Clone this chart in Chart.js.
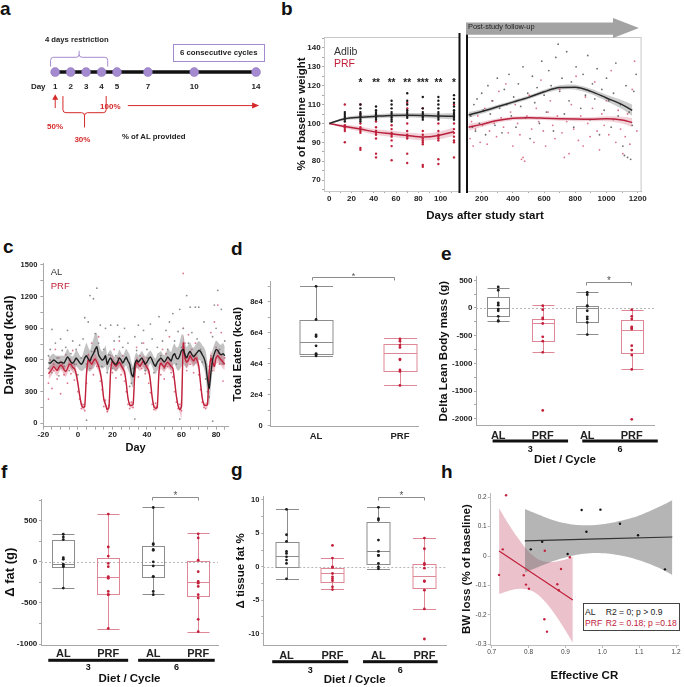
<!DOCTYPE html>
<html><head><meta charset="utf-8">
<script src="https://cdn.jsdelivr.net/npm/chart.js"></script>
<style>
html,body{margin:0;padding:0;background:#fff;}
body{width:685px;height:687px;position:relative;overflow:hidden;font-family:'Liberation Sans',Arial,Helvetica,sans-serif;color:#111;}
canvas{position:absolute;}
.t{position:absolute;white-space:nowrap;line-height:1;}
.c{transform:translate(-50%,-50%);}
.v{transform:translate(0,-50%);}
.P{font-weight:bold;font-size:19px;}
</style></head><body>
<script>
// ================= DATA =================
// panel a : schedule
const aDays = [1, 2, 3, 4, 5, 7, 10, 14];

// panel b : % of baseline weight
const bLDays = [0, 14, 28, 42, 56, 70, 84, 98, 112];
const bLALmean = [100, 102.5, 103.3, 103.8, 104.2, 104.3, 104.2, 103.9, 103.8];
const bLALhw = [0.2, 0.8, 1.0, 1.1, 1.2, 1.2, 1.3, 1.4, 1.6];
const bLPRFmean = [100, 98.4, 97.0, 95.4, 94.5, 93.6, 92.8, 93.6, 95.6];
const bLPRFhw = [0.2, 1.0, 1.3, 1.5, 1.6, 1.7, 1.8, 2.0, 2.2];
const bColDays = [14, 28, 42, 56, 70, 84, 98, 112];
const bColAL = [
  [106, 105, 104, 103, 102, 101],
  [110, 108, 106, 105, 104, 103.5, 103, 102, 101],
  [109, 107, 106, 105, 104.5, 104, 103, 102],
  [112, 110, 108, 106, 105, 104, 103, 102, 101],
  [116, 112, 110, 107, 106, 105, 104, 103],
  [114, 108, 106, 105, 104, 103, 102],
  [114, 112, 110, 108, 106, 105, 104, 103, 102],
  [115, 113, 111, 109, 107, 106, 105, 104, 103, 102]
];
const bColPRF = [
  [110, 99, 98, 97, 96, 90],
  [110, 105, 100, 98, 97, 96, 95, 87, 86],
  [101, 98, 96, 95, 94, 92, 84, 82],
  [99, 97, 95, 94, 93, 91, 88, 80.5],
  [111, 108, 100, 96, 94, 93, 92, 84, 79],
  [108, 104, 96, 94, 92, 91, 90, 89, 78, 77],
  [100, 96, 94, 93, 92, 91, 81, 78.5],
  [110, 104, 100, 97, 95, 93, 91, 90, 82]
];
const bStarDays = [28, 42, 56, 70, 84, 98, 112];
const bStars = ['*', '**', '**', '**', '***', '**', '*'];
const bStarLevel = 122.7;
const bRDays = [116, 200, 300, 400, 500, 600, 700, 800, 900, 1000, 1100, 1165];
const bRALmean = [104.5, 106.3, 108.8, 111.3, 113.8, 116.8, 119.0, 119.2, 117.0, 113.5, 110.0, 107.0];
const bRALhw = [1.5, 1.2, 1.0, 1.0, 1.0, 1.1, 1.2, 1.3, 1.4, 1.7, 2.3, 3.0];
const bRPRFmean = [98.0, 99.5, 101.5, 102.7, 103.0, 102.8, 102.5, 102.3, 102.2, 102.5, 101.8, 100.5];
const bRPRFhw = [1.8, 1.4, 1.1, 1.0, 1.0, 1.0, 1.1, 1.1, 1.1, 1.3, 1.8, 2.4];
const bRALpts = [[130,104],[140,98],[150,110],[160,96],[170,113],[185,100],[200,116],[210,107],[225,94],[240,120],[255,105],[270,112],[285,99],[300,124],[315,108],[330,95],[345,118],[360,110],[375,126],[390,104],[405,114],[420,98],[435,121],[450,109],[465,130],[480,103],[495,116],[510,92],[525,125],[540,111],[555,119],[570,100],[585,133],[600,115],[615,106],[630,128],[645,120],[660,96],[675,135],[690,142],[700,117],[715,124],[730,105],[745,138],[760,112],[775,122],[790,98],[805,130],[820,119],[835,108],[850,126],[865,115],[880,136],[895,102],[910,121],[925,113],[940,129],[955,94],[970,118],[985,107],[1000,124],[1015,112],[1030,98],[1045,116],[1060,132],[1075,104],[1090,110],[1105,88],[1115,83],[1125,120],[1135,82],[1145,106],[1155,81],[1165,99],[1175,117],[1190,126]];
const bRPRFpts = [[125,92],[135,101],[145,88],[160,97],[175,104],[190,90],[205,99],[220,108],[235,89],[250,96],[265,112],[280,100],[295,93],[310,117],[325,103],[340,98],[355,121],[370,95],[385,106],[400,88],[415,110],[430,100],[445,94],[455,81],[465,82],[475,80],[490,104],[505,115],[520,97],[535,90],[550,108],[565,101],[580,123],[595,96],[610,88],[625,106],[640,112],[655,99],[670,92],[685,104],[700,118],[715,95],[730,82],[745,101],[760,84],[775,110],[790,97],[805,125],[820,91],[835,104],[850,88],[865,114],[880,100],[895,93],[910,108],[925,122],[940,96],[955,86],[970,105],[985,99],[1000,112],[1015,94],[1030,128],[1045,102],[1060,90],[1075,107],[1090,97],[1105,84],[1120,93],[1135,105],[1150,89],[1165,118],[1180,133],[1195,96]];

// panel c : daily feed (days -17 .. 85)
const cFirstDay = -17;
const cALmean = [575,570,585,600,590,575,570,580,575,570, 600,630,610,580,570,590,620,600,575,560, 580,620,640,610,590,630,660,700,725,650, 620,600,610,640,560,600,620,590,570,560, 580,620,600,570,600,630,590,560,470,440, 560,600,580,600,620,590,560,580,610,630, 600,560,540,580,600,620,600,580,600,630, 610,590,640,660,620,610,640,690,700,650, 620,660,680,650,630,650,670,690,680,650, 620,560,420,330,480,600,660,700,690,660, 650,660,640];
const cALhw = [60,65,70,60,55,65,70,60,65,70, 75,80,70,60,65,70,80,75,70,65, 80,100,120,110,100,120,140,150,130,110, 90,80,85,100,90,80,75,70,65,70, 75,80,70,65,70,80,85,90,110,100, 80,70,65,60,65,70,75,70,65,60, 65,70,75,80,70,65,60,65,70,75, 80,85,90,95,100,110,130,150,140,110, 100,90,85,80,85,90,95,90,85,90, 100,120,150,160,130,100,90,85,80,90, 95,100,90];
const cPRFmean = [470,490,510,540,520,500,530,550,540,510, 490,520,560,560,530,520,470,380,270,180, 150,160,470,600,580,560,590,610,580,540, 480,380,230,180,130,150,500,590,560,540, 560,580,550,520,490,380,240,175,170,180, 480,580,560,540,570,590,560,530,500,400, 250,160,140,160,500,570,550,530,560,580, 560,540,520,400,260,170,130,160,760,620, 580,600,640,610,590,620,600,540,380,240, 175,170,175,480,620,580,540,620,640,620, 600,580,560];
const cPRFhw = [50,55,50,45,50,55,50,45,50,55, 50,45,50,55,50,45,50,40,35,30, 25,30,60,70,55,50,45,50,55,50, 45,40,35,30,25,30,60,55,50,45, 50,55,50,45,40,35,30,25,25,30, 60,55,50,45,50,55,50,45,40,35, 30,25,25,30,60,55,50,45,50,55, 50,45,40,35,30,25,30,120,80,60, 55,60,65,60,55,50,55,50,40,30, 25,25,30,60,70,60,55,60,65,60, 55,60,55];
const cALpts = [[-17,640],[-17,520],[-16,700],[-15,480],[-15,890],[-14,560],[-13,760],[-12,620],[-11,450],[-10,800],[-9,690],[-8,540],[-7,720],[-6,880],[-5,500],[-4,660],[-3,780],[-2,560],[-1,700],[0,460],[1,740],[2,620],[3,800],[4,1000],[5,560],[6,960],[7,1210],[8,680],[9,1180],[10,850],[11,1280],[12,760],[13,930],[14,540],[15,700],[16,900],[17,480],[18,650],[19,930],[20,520],[21,780],[22,640],[23,930],[24,820],[25,560],[26,720],[27,900],[28,610],[29,760],[30,350],[31,380],[32,520],[33,820],[34,690],[35,930],[36,540],[37,760],[38,880],[39,500],[40,700],[41,620],[42,940],[43,800],[44,480],[45,560],[46,720],[47,1010],[48,640],[49,780],[50,520],[51,880],[52,700],[53,960],[54,600],[55,1040],[56,780],[57,560],[58,870],[59,1080],[60,720],[61,900],[62,620],[63,1210],[64,760],[65,1100],[66,860],[67,640],[68,1100],[69,800],[70,1100],[71,700],[72,580],[73,960],[74,420],[75,300],[76,250],[77,640],[78,820],[79,1120],[80,900],[81,1260],[82,700],[83,1080],[84,560],[85,780],[5,30],[33,40],[59,40],[78,20]];
const cPRFpts = [[-17,380],[-17,230],[-16,600],[-15,330],[-14,500],[-13,700],[-12,420],[-11,620],[-10,280],[-9,560],[-8,460],[-7,650],[-6,380],[-5,600],[-4,470],[-3,690],[-2,410],[-1,560],[0,300],[1,230],[2,140],[3,180],[4,120],[5,380],[6,650],[7,520],[8,760],[9,460],[10,680],[11,540],[12,820],[13,400],[14,320],[15,160],[16,220],[17,110],[18,170],[19,640],[20,480],[21,700],[22,430],[23,620],[24,780],[25,460],[26,640],[27,400],[28,300],[29,180],[30,140],[31,200],[32,150],[33,560],[34,720],[35,440],[36,640],[37,520],[38,760],[39,470],[40,620],[41,380],[42,290],[43,180],[44,130],[45,190],[46,150],[47,600],[48,460],[49,700],[50,420],[51,660],[52,540],[53,820],[54,480],[55,440],[56,300],[57,200],[58,140],[59,180],[60,120],[61,1420],[61,900],[62,760],[63,500],[64,840],[65,560],[66,700],[67,480],[68,760],[69,620],[70,460],[71,320],[72,200],[73,150],[74,140],[75,190],[76,540],[77,860],[78,500],[79,960],[80,720],[81,1120],[82,560],[83,860],[84,400],[85,620]];

// panel d : total eaten
const dGroups = ['AL', 'PRF'];
const dLow = [44800, 26000];
const dQ1 = [46000, 35500];
const dMed = [54200, 46700];
const dQ3 = [68200, 52900];
const dHigh = [89900, 56400];
const dPts = [[89900, 68500, 58500, 57500, 51500, 46500, 46000, 45000], [56000, 54500, 52000, 50500, 43000, 42500, 36000, 35000, 26000]];
const dYTicks = [0, 10000, 20000, 30000, 40000, 50000, 60000, 70000, 80000, 90000];

// panels e, f, g : diet x cycle
const diets = ['AL', 'PRF', 'AL', 'PRF'];
const cycles = ['3', '6'];
const eLow = [-235, -795, -475, -1108];
const eQ1 = [-150, -602, -253, -819];
const eMed = [5, -265, 5, -391];
const eQ3 = [204, -193, 42, -223];
const eHigh = [356, 49, 283, -36];
const ePts = [[380, 320, 90, 50, -20, -50, -150, -230, -240], [40, -30, -180, -200, -280, -520, -600, -800, -1850], [280, 240, 40, 30, -50, -160, -200, -260, -480], [-30, -150, -200, -340, -360, -380, -680, -760, -850, -1110, -2010]];
const eYTicks = [-2000, -1750, -1500, -1250, -1000, -750, -500, -250, 0, 250, 500];
const fLow = [-320, -814, -393, -855];
const fQ1 = [-58, -393, -180, -422];
const fMed = [-29, -187, -41, -248];
const fQ3 = [262, 44, 193, 11];
const fHigh = [339, 581, 662, 347];
const fPts = [[335, 300, 270, 50, 30, -30, -50, -60, -320], [580, 180, 70, -20, -60, -180, -200, -360, -400, -400, -810], [660, 220, 210, 150, 140, 0, -50, -180, -180, -360, -400], [340, 290, 20, -120, -240, -260, -300, -400, -440, -700, -850]];
const fYTicks = [-1000, -750, -500, -250, 0, 250, 500, 750];
const gLow = [-1.83, -3.37, -0.33, -6.3];
const gQ1 = [0.02, -2.2, 0.47, -3.13];
const gMed = [1.57, -0.97, 2.36, -1.33];
const gQ3 = [3.76, -0.13, 6.75, 0.37];
const gHigh = [8.6, 1.27, 8.9, 4.26];
const gPts = [[8.6, 4.8, 3.8, 2.3, 2.0, 1.5, 1.0, 0.5, -1.8], [3.2, 1.3, 0, -0.1, -1.0, -1.5, -1.8, -2.1, -3.0, -3.4], [8.9, 7.2, 7.0, 4.0, 2.3, 1.7, 1.7, 0.5, 0, -0.3], [4.3, 2.7, 0.5, 0.3, -0.2, -2.1, -2.2, -3.5, -6.3, -10.8]];
const gYTicks = [-10, -7.5, -5, -2.5, 0, 2.5, 5, 7.5, 10];

// panel h : BW loss vs effective CR
const hALx = [0.806, 0.837, 0.906, 0.944, 0.957, 0.995, 1.048, 1.097, 1.170];
const hALy = [0.023, 0.049, 0.007, 0.157, 0.083, 0.158, 0.110, 0.071, -0.045];
const hPRFx = [0.720, 0.730, 0.739, 0.787, 0.793, 0.801, 0.843, 0.844, 0.850, 0.878, 0.882, 0.888, 0.912];
const hPRFy = [-0.064, 0.023, 0.207, -0.065, -0.097, -0.111, -0.215, 0.018, -0.257, -0.096, -0.116, -0.044, -0.004];
const hALfitX = [0.79, 1.19];
const hALfitY = [0.052, 0.065];
const hPRFfitX = [0.72, 0.92];
const hPRFfitY = [0.017, -0.149];
const hALbandX = [0.79, 0.85, 0.90, 0.95, 1.00, 1.05, 1.10, 1.15, 1.19];
const hALbandHi = [0.160, 0.130, 0.112, 0.105, 0.108, 0.120, 0.138, 0.165, 0.190];
const hALbandLo = [-0.056, -0.025, -0.005, 0.008, 0.010, 0.002, -0.014, -0.038, -0.064];
const hPRFbandX = [0.72, 0.745, 0.77, 0.795, 0.82, 0.845, 0.87, 0.895, 0.92];
const hPRFbandHi = [0.163, 0.111, 0.064, 0.023, -0.006, -0.019, -0.019, -0.013, -0.003];
const hPRFbandLo = [-0.129, -0.119, -0.112, -0.113, -0.126, -0.155, -0.195, -0.243, -0.295];

// ================= HELPERS =================
const FONT = "'Liberation Sans', Arial, Helvetica, sans-serif";
const RED = '#c0203a';
Chart.defaults.font.family = FONT;
Chart.defaults.color = '#222';

function cv(left, top, w, h){ const c=document.createElement('canvas'); c.width=w; c.height=h; c.style.left=left+'px'; c.style.top=top+'px'; c.style.width=w+'px'; c.style.height=h+'px'; document.body.appendChild(c); return c; }
function tx(s, x, y, css, cls){ const d=document.createElement('div'); d.className='t'+(cls?' '+cls:''); d.textContent=s; d.style.left=x+'px'; d.style.top=y+'px'; if(css) d.style.cssText+=';'+css; document.body.appendChild(d); return d; }
const xy = (xs, ys) => xs.map((x,i)=>({x, y:ys[i]}));
const pairs = arr => arr.map(p=>({x:p[0], y:p[1]}));
function seg(ctx,x1,y1,x2,y2){ ctx.beginPath(); ctx.moveTo(x1,y1); ctx.lineTo(x2,y2); ctx.stroke(); }
function every(step, fmt){ return v => (Math.abs(Math.round(v/step)*step - v) < 1e-9 ? (fmt?fmt(v):String(v)) : ''); }

function axis(o){
  const lc = o.lineColor || '#a8a8a8';
  const ax = {
    type:'linear', position:o.pos, min:o.min, max:o.max, offset:false,
    border:{display:true, color:lc, width:1},
    grid:{display:true, drawOnChartArea:false, drawTicks:(o.tickLen||0)>0, tickLength:o.tickLen||0, color:lc, lineWidth:1},
    ticks:{stepSize:o.step, includeBounds:false, autoSkip:false, maxRotation:0, minRotation:0, padding:o.pad||0,
      font:{size:o.fs||8, weight:o.fw||'bold', family:FONT}, color:o.tc||'#222', callback:o.fmt},
    title:{display:!!o.title, text:o.title||'', color:'#111', font:{size:o.ts||11.5, weight:'bold', family:FONT, lineHeight:1.2},
      padding: o.pos==='left' ? {top:o.tpad||0, bottom:0} : {top:0, bottom:o.tpad||0}}
  };
  if (o.size != null) ax.afterFit = o.pos==='left' ? (s)=>{ s.width=o.size; } : (s)=>{ s.height=o.size; };
  if (o.ticksAt) ax.afterBuildTicks = (s)=>{ s.ticks = o.ticksAt.map(v=>({value:v})); };
  return ax;
}
function ln(data, color, w, mono){ return {data, borderColor:color, borderWidth:w, pointRadius:0, fill:false, tension:0.3, cubicInterpolationMode: mono?'monotone':'default'}; }
function sc(data, color, r){ return {data, showLine:false, pointRadius:r, pointBackgroundColor:color, pointBorderColor:color, pointBorderWidth:0}; }
function bandHL(xs, hi, lo, color, t){
  return [
    {data:xy(xs,hi), fill:'+1', backgroundColor:color, borderColor:'rgba(0,0,0,0)', borderWidth:0, pointRadius:0, tension:t},
    {data:xy(xs,lo), fill:false, borderColor:'rgba(0,0,0,0)', borderWidth:0, pointRadius:0, tension:t}
  ];
}
function bandMW(xs, mean, hw, color, t){ return bandHL(xs, mean.map((m,i)=>m+hw[i]), mean.map((m,i)=>m-hw[i]), color, t); }
function cfg(datasets, scales, padding, plugins){
  return {type:'line', data:{datasets}, plugins:plugins||[],
    options:{animation:false, responsive:false, maintainAspectRatio:false, events:[], layout:{padding},
      plugins:{legend:{display:false}, tooltip:{enabled:false}}, scales}};
}

// ================= PANEL LETTERS =================
tx('a', 0, -1, '', 'P'); tx('b', 281, -1, '', 'P'); tx('c', 3, 237, '', 'P'); tx('d', 231, 239, '', 'P');
tx('e', 441, 244, '', 'P'); tx('f', 1, 462, '', 'P'); tx('g', 231, 460, '', 'P'); tx('h', 441, 462, '', 'P');

// ================= PANEL A =================
(function(){
  const c = cv(0, 20, 290, 130);
  const TY = 51;
  const purple = '#a48bd0', red = '#d42a2a';
  function brace(ctx,x1,x2,yE,yB,yC){
    const cx=(x1+x2)/2, r=3, s=Math.sign(yC-yB), se=Math.sign(yB-yE);
    ctx.beginPath(); ctx.moveTo(x1,yE); ctx.lineTo(x1,yB-se*r); ctx.quadraticCurveTo(x1,yB,x1+r,yB); ctx.lineTo(cx-r,yB);
    ctx.quadraticCurveTo(cx,yB,cx,yB+s*r); ctx.lineTo(cx,yC); ctx.moveTo(cx,yB+s*r); ctx.quadraticCurveTo(cx,yB,cx+r,yB);
    ctx.lineTo(x2-r,yB); ctx.quadraticCurveTo(x2,yB,x2,yB-se*r); ctx.lineTo(x2,yE); ctx.stroke();
  }
  const deco = {id:'aDeco', afterDraw(ch){
    const {ctx, scales:{x,y}} = ch; const X=d=>x.getPixelForValue(d), Y=v=>y.getPixelForValue(v);
    ctx.save();
    ctx.font='bold 8px '+FONT; ctx.fillStyle='#222'; ctx.textAlign='center'; ctx.textBaseline='middle';
    aDays.forEach(d=>ctx.fillText(String(d), X(d), Y(67)));
    ctx.fillText('Day', X(-0.1), Y(67));
    ctx.lineWidth=1; ctx.strokeStyle=purple;
    brace(ctx, X(0.7), X(4.4), Y(45), Y(35), Y(28));
    ctx.strokeStyle=red; ctx.fillStyle=red;
    seg(ctx, X(1), Y(90), X(1), Y(79));
    ctx.beginPath(); ctx.moveTo(X(1), Y(75)); ctx.lineTo(X(1)-3, Y(81)); ctx.lineTo(X(1)+3, Y(81)); ctx.closePath(); ctx.fill();
    brace(ctx, X(1.5), X(4.3), Y(77), Y(95), Y(111));
    seg(ctx, X(5.7), Y(87.3), X(14.2)-5, Y(87.3));
    ctx.beginPath(); ctx.moveTo(X(14.2), Y(87.3)); ctx.lineTo(X(14.2)-7, Y(87.3)-3); ctx.lineTo(X(14.2)-7, Y(87.3)+3); ctx.closePath(); ctx.fill();
    ctx.restore();
  }};
  const ds = [
    Object.assign(sc(aDays.map(d=>({x:d, y:TY})), purple, 4.5), {pointBorderColor:'#8a70b8', pointBorderWidth:0.5}),
    {data:[{x:0.75,y:TY},{x:14.125,y:TY}], borderColor:'#111', borderWidth:3.5, pointRadius:0, fill:false}
  ];
  new Chart(c, cfg(ds, {x:{type:'linear', display:false, min:-2.25, max:15.875}, y:{type:'linear', display:false, min:0, max:130, reverse:true}}, 0, [deco]));
  tx('4 days restriction', 76.8, 39.5, 'font-size:7.7px;font-weight:bold;color:#222', 'c');
  tx('6 consecutive cycles', 172.7, 44.3, 'width:90px;height:16px;border:1px solid '+purple+';font-size:7.8px;font-weight:bold;color:#222;text-align:center;line-height:16px');
  tx('50%', 55, 126.7, 'font-size:8px;font-weight:bold;color:'+red, 'c');
  tx('30%', 82.4, 140, 'font-size:8px;font-weight:bold;color:'+red, 'c');
  tx('100%', 110.3, 107.3, 'font-size:8px;font-weight:bold;color:'+red, 'c');
  tx('% of AL provided', 153.8, 136.7, 'font-size:7.8px;font-weight:bold;color:#222', 'c');
})();

// ================= PANEL B =================
const bBlack = '#2a2a2a', bRed = '#b8203c';
const bGrayBand = 'rgba(110,110,110,0.35)', bPinkBand = 'rgba(205,90,115,0.28)';
(function(){
  const c = cv(290, 30, 173, 180);
  const colPts = (cols) => bColDays.flatMap((d,i)=>cols[i].map(v=>({x:d, y:v})));
  const ds = [
    ln(xy(bLDays, bLALmean), bBlack, 1.5, true),
    ln(xy(bLDays, bLPRFmean), bRed, 1.5, true),
    sc(colPts(bColAL), '#1a1a1a', 1.2),
    sc(colPts(bColPRF), '#c0203a', 1.2),
    ...bandMW(bLDays, bLALmean, bLALhw, bGrayBand, 0.3),
    ...bandMW(bLDays, bLPRFmean, bLPRFhw, bPinkBand, 0.3)
  ];
  const deco = {id:'bL',
    beforeDatasetsDraw(ch){ const {ctx, chartArea:a}=ch; ctx.save(); ctx.strokeStyle='#c8c8c8'; ctx.lineWidth=1; ctx.strokeRect(a.left+0.5, a.top+0.5, a.right-a.left, a.bottom-a.top); ctx.restore(); },
    afterDraw(ch){ const {ctx, chartArea:a, scales:{x,y}}=ch; ctx.save();
      ctx.fillStyle='#111'; ctx.fillRect(a.right-0.5, a.top-4, 2, a.bottom-a.top+6);
      ctx.font='bold 10px '+FONT; ctx.textAlign='center'; ctx.textBaseline='alphabetic'; ctx.fillStyle='#222';
      bStarDays.forEach((d,i)=>ctx.fillText(bStars[i], x.getPixelForValue(d), y.getPixelForValue(bStarLevel)+5.5));
      ctx.restore(); }
  };
  new Chart(c, cfg(ds, {
    x: axis({pos:'bottom', min:-4.7, max:116.5, step:10, fmt:every(20), fs:8, tickLen:2, pad:1.3, size:19}),
    y: axis({pos:'left', min:64.2, max:145.8, step:5, fmt:every(10), fs:8, tickLen:2, pad:1.3, size:34, title:'% of baseline weight', ts:11.5, tpad:5.1})
  }, {top:7, right:2, left:0, bottom:0}, [deco]));
})();
(function(){
  const c = cv(463, 30, 185, 180);
  const ds = [
    ln(xy(bRDays, bRALmean), bBlack, 1.5, true),
    ln(xy(bRDays, bRPRFmean), bRed, 1.5, true),
    sc(pairs(bRALpts), 'rgba(60,60,60,0.75)', 0.9),
    sc(pairs(bRPRFpts), 'rgba(205,70,100,0.75)', 0.9),
    ...bandMW(bRDays, bRALmean, bRALhw, bGrayBand, 0.3),
    ...bandMW(bRDays, bRPRFmean, bRPRFhw, bPinkBand, 0.3)
  ];
  const deco = {id:'bR',
    beforeDatasetsDraw(ch){ const {ctx, chartArea:a}=ch; ctx.save(); ctx.strokeStyle='#c8c8c8'; ctx.lineWidth=1; ctx.strokeRect(a.left+0.5, a.top+0.5, a.right-a.left-1, a.bottom-a.top); ctx.restore(); },
    afterDraw(ch){ const {ctx, chartArea:a}=ch; ctx.save(); ctx.fillStyle='#111'; ctx.fillRect(a.left-1, a.top-4, 2, a.bottom-a.top+6); ctx.restore(); }
  };
  new Chart(c, cfg(ds, {
    x: axis({pos:'bottom', min:105.7, max:1225, step:100, fmt:every(200), fs:8, tickLen:2, pad:1.3, size:19}),
    y: {type:'linear', display:false, min:64.2, max:145.8}
  }, {top:7, right:5, left:2, bottom:0}, [deco]));
  const ar = document.createElement('div');
  ar.style.cssText = 'position:absolute;left:466px;top:18px;width:173px;height:20px;background:#a3a3a3;clip-path:polygon(0 4.5px,147px 4.5px,147px 0,173px 10px,147px 20px,147px 16.7px,0 16.7px)';
  document.body.appendChild(ar);
  tx('Post-study follow-up', 468, 27.3, 'font-size:7.4px;color:#222', 'v');
  tx('Days after study start', 485, 216, 'font-size:11.5px;font-weight:bold;color:#111', 'c');
  tx('Adlib', 334, 51, 'font-size:10.5px;color:#333', 'v');
  tx('PRF', 334, 63, 'font-size:10.5px;color:'+RED, 'v');
})();

// ================= PANEL C =================
(function(){
  const c = cv(0, 250, 232, 210);
  const days = cALmean.map((_,i)=>cFirstDay+i);
  const ds = [
    ln(xy(days, cALmean), '#1e1e1e', 1.4, false),
    ln(xy(days, cPRFmean), '#c0203a', 1.4, false),
    ...bandMW(days, cPRFmean, cPRFhw, 'rgba(210,80,105,0.35)', 0.2),
    ...bandMW(days, cALmean, cALhw, 'rgba(120,120,120,0.45)', 0.2),
    sc(pairs(cALpts), '#8e8e8e', 0.9),
    sc(pairs(cPRFpts), 'rgba(215,95,120,0.85)', 0.9)
  ];
  ds[0].tension = 0.2; ds[1].tension = 0.2;
  new Chart(c, cfg(ds, {
    x: axis({pos:'bottom', min:-20, max:86.9, step:5, fmt:every(20), fs:8, tickLen:3, pad:0, size:33.3, title:'Day', ts:11, tpad:5.1}),
    y: axis({pos:'left', min:-32, max:1516, step:150, fmt:every(300), fs:7.5, tickLen:3, pad:3, size:43.3, title:'Daily feed (kcal)', ts:13, tpad:1.5})
  }, {top:13.3, right:2.7, left:0, bottom:0}));
  tx('AL', 50.7, 272, 'font-size:9.5px;color:#333', 'v');
  tx('PRF', 50.7, 286, 'font-size:9.5px;color:'+RED, 'v');
})();

// ================= BOX PANELS =================
const boxGray = '#8d8d8d', boxPink = '#de8796', ptBlack = '#1e1e1e', ptRed = '#c4203c';
function boxChart(o){
  const c = cv(o.left, o.top, o.w, o.h);
  const xs = o.labels.map((_,i)=>i+1);
  const ds = o.pts.map((arr,i)=>sc(arr.map(v=>({x:xs[i], y:v})), o.ptColors[i], 1.4));
  const plug = {id:'boxes',
    beforeDatasetsDraw(ch){
      const {ctx, chartArea:a, scales:{x,y}} = ch; ctx.save();
      if (o.zero){ ctx.strokeStyle='#b8b8b8'; ctx.lineWidth=1; ctx.setLineDash([2,2]); const yy=Math.round(y.getPixelForValue(0))+0.5; seg(ctx,a.left,yy,a.right,yy); ctx.setLineDash([]); }
      xs.forEach((xv,i)=>{
        const cx=Math.round(x.getPixelForValue(xv))+0.5, h=o.half;
        const P=v=>Math.round(y.getPixelForValue(v))+0.5;
        const lo=P(o.low[i]), q1=P(o.q1[i]), md=P(o.med[i]), q3=P(o.q3[i]), hi=P(o.high[i]);
        ctx.strokeStyle=o.boxColors[i]; ctx.lineWidth=1;
        ctx.strokeRect(cx-h, q3, 2*h, q1-q3);
        seg(ctx,cx-h,md,cx+h,md);
        seg(ctx,cx,q3,cx,hi); seg(ctx,cx,q1,cx,lo);
        seg(ctx,cx-h,hi,cx+h,hi); seg(ctx,cx-h,lo,cx+h,lo);
      });
      ctx.restore();
    },
    afterDraw(ch){
      const {ctx, scales:{x,y}} = ch; ctx.save();
      const b=o.bracket; const x1=Math.round(x.getPixelForValue(b.from))+0.5, x2=Math.round(x.getPixelForValue(b.to))+0.5, yb=Math.round(y.getPixelForValue(b.y))+0.5;
      ctx.strokeStyle='#8c8c8c'; ctx.lineWidth=1;
      ctx.beginPath(); ctx.moveTo(x1,yb+3); ctx.lineTo(x1,yb); ctx.lineTo(x2,yb); ctx.lineTo(x2,yb+3); ctx.stroke();
      ctx.fillStyle='#555'; ctx.font=(o.starSize||10)+'px '+FONT; ctx.textAlign='center'; ctx.textBaseline='alphabetic';
      ctx.fillText('*', (x1+x2)/2, yb+1);
      if (o.groups){
        ctx.fillStyle='#111'; ctx.font='bold 9px '+FONT; ctx.textBaseline='middle';
        o.groups.forEach((g,gi)=>{ const g1=x.getPixelForValue(g[0]), g2=x.getPixelForValue(g[1]);
          ctx.fillRect(g1, o.groupBarY-1.5, g2-g1, 3); ctx.fillText(o.groupLabels[gi], (g1+g2)/2, o.groupLabelY); });
      }
      ctx.restore();
    }
  };
  new Chart(c, cfg(ds, {x:o.x, y:o.y}, o.pad, [plug]));
}

// d
boxChart({left:225, top:270, w:197, h:190, labels:dGroups, pts:dPts, low:dLow, q1:dQ1, med:dMed, q3:dQ3, high:dHigh,
  boxColors:[boxGray, boxPink], ptColors:[ptBlack, ptRed], half:16.5, zero:false, bracket:{from:0.95, to:1.93, y:96100}, starSize:9,
  x: axis({pos:'bottom', min:0.459, max:2.215, ticksAt:[1,2], fmt:v=>dGroups[Math.round(v)-1], fs:9.5, tickLen:0, pad:4, size:33.3}),
  y: axis({pos:'left', min:-645, max:92900, ticksAt:dYTicks, fmt:every(20000, v=>v===0?'0':(v/1e4)+'e4'), fs:7.5, tickLen:3, pad:5, size:45.7, title:'Total Eaten (kcal)', ts:11.5, tpad:6.4}),
  pad:{top:11.7, right:2, left:0, bottom:0}});

// e
boxChart({left:428, top:266, w:230, h:203, labels:diets, pts:ePts, low:eLow, q1:eQ1, med:eMed, q3:eQ3, high:eHigh,
  boxColors:[boxGray, boxPink, boxGray, boxPink], ptColors:[ptBlack, ptRed, ptBlack, ptRed], half:11, zero:true,
  bracket:{from:2.97, to:3.99, y:475}, groups:[[0.873,2.569],[2.888,4.585]], groupLabels:cycles, groupBarY:175, groupLabelY:183.3,
  x: axis({pos:'bottom', min:0.5, max:4.5, ticksAt:[1,2,3,4], fmt:v=>diets[Math.round(v)-1], fs:11, tickLen:0, pad:3.4, size:43.3, title:'Diet / Cycle', ts:11.5, tpad:2.1}),
  y: axis({pos:'left', min:-2126, max:565, ticksAt:eYTicks, fmt:every(500), fs:8, tickLen:2, pad:1.5, size:48, title:'Delta Lean Body mass (g)', ts:11.5, tpad:9.1}),
  pad:{top:10.7, right:3, left:0, bottom:0}});

// f
boxChart({left:0, top:488, w:222, h:199, labels:diets, pts:fPts, low:fLow, q1:fQ1, med:fMed, q3:fQ3, high:fHigh,
  boxColors:[boxGray, boxPink, boxGray, boxPink], ptColors:[ptBlack, ptRed, ptBlack, ptRed], half:11, zero:true,
  bracket:{from:2.98, to:4.0, y:784}, groups:[[0.666,2.442],[2.664,4.367]], groupLabels:cycles, groupBarY:172.3, groupLabelY:179.7,
  x: axis({pos:'bottom', min:0.504, max:4.44, ticksAt:[1,2,3,4], fmt:v=>diets[Math.round(v)-1], fs:11, tickLen:0, pad:2.1, size:42, title:'Diet / Cycle', ts:11.5, tpad:1.1}),
  y: axis({pos:'left', min:-1012, max:760, ticksAt:fYTicks, fmt:every(500), fs:8, tickLen:2, pad:1.7, size:41, title:'Δ fat (g)', ts:13, tpad:2.2}),
  pad:{top:11.3, right:3.7, left:0, bottom:0}});

// g
boxChart({left:224, top:486, w:226, h:201, labels:diets, pts:gPts, low:gLow, q1:gQ1, med:gMed, q3:gQ3, high:gHigh,
  boxColors:[boxGray, boxPink, boxGray, boxPink], ptColors:[ptBlack, ptRed, ptBlack, ptRed], half:11.5, zero:true,
  bracket:{from:3.0, to:4.0, y:10.4}, groups:[[0.689,2.342],[2.665,4.288]], groupLabels:cycles, groupBarY:175.7, groupLabelY:185,
  x: axis({pos:'bottom', min:0.495, max:4.47, ticksAt:[1,2,3,4], fmt:v=>diets[Math.round(v)-1], fs:11, tickLen:0, pad:4.8, size:42, title:'Diet / Cycle', ts:11.5, tpad:0}),
  y: axis({pos:'left', min:-11.7, max:10.49, ticksAt:gYTicks, fmt:every(5), fs:7.5, tickLen:2, pad:2, size:39.3, title:'Δ tissue fat %', ts:11.5, tpad:9.8}),
  pad:{top:10.7, right:2.3, left:0, bottom:0}});

// ================= PANEL H =================
(function(){
  const c = cv(452, 483, 230, 204);
  const ds = [
    ln(xy(hALfitX, hALfitY), '#333', 1.2, false),
    ln(xy(hPRFfitX, hPRFfitY), '#c0203a', 1.2, false),
    sc(xy(hALx, hALy), '#111', 1.2),
    sc(xy(hPRFx, hPRFy), '#c4203c', 1.2),
    ...bandHL(hALbandX, hALbandHi, hALbandLo, 'rgba(120,120,120,0.55)', 0.4),
    ...bandHL(hPRFbandX, hPRFbandHi, hPRFbandLo, 'rgba(210,120,140,0.45)', 0.4)
  ];
  new Chart(c, cfg(ds, {
    x: axis({pos:'bottom', min:0.6973, max:1.2054, step:0.1, fmt:v=>v.toFixed(1), fs:6.5, fw:'normal', tc:'#444', lineColor:'#bbbbbb', tickLen:3, pad:0, size:42, title:'Effective CR', ts:11.5, tpad:4.1}),
    y: axis({pos:'left', min:-0.3024, max:0.2136, step:0.1, fmt:v=>Math.abs(v)<1e-9?'0':v.toFixed(1), fs:6.5, fw:'normal', tc:'#444', lineColor:'#bbbbbb', tickLen:3, pad:1, size:38.7, title:'BW loss (% of baseline)', ts:11.5, tpad:7.8})
  }, {top:10.3, right:2.7, left:0, bottom:0}));
  const lg = document.createElement('div');
  lg.style.cssText = 'position:absolute;left:582.7px;top:603.3px;width:95px;height:26px;border:1px solid #444;background:#fff';
  document.body.appendChild(lg);
  tx('AL', 585, 612.3, 'font-size:8.6px;color:#222', 'v');
  tx('R2 = 0; p > 0.9', 605.7, 612.3, 'font-size:8.6px;color:#222', 'v');
  tx('PRF', 585, 623.3, 'font-size:8.6px;color:'+RED, 'v');
  tx('R2 = 0.18; p =0.18', 605.7, 623.3, 'font-size:8.6px;color:'+RED, 'v');
})();
</script>
</body></html>
